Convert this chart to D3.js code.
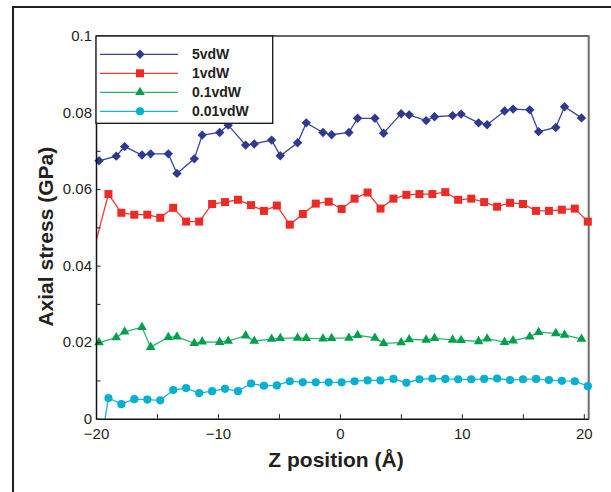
<!DOCTYPE html>
<html lang="en">
<head>
    <meta charset="UTF-8">
    <script src="https://cdn.jsdelivr.net/npm/d3@7"></script>
    <title>Axial stress</title>
    <style>
        body { margin: 0; background: #fff; }
        svg { display: block; }
        text { font-family: "Liberation Sans", Arial, Helvetica, sans-serif; fill: #231f20; }
        .tick line { stroke: #231f20; stroke-width: 1; }
        .domain { stroke: #111; stroke-width: 1.5; }
    </style>
</head>
<body>
<script>

    /*-------------------------------------------------------*/
    /*------------------------ Data -------------------------*/
    /*-------------------------------------------------------*/
    // z positions (Å) for the 5vdW and 0.1vdW curves
    const zRing = [-19.75, -18.34, -17.65, -16.23, -15.52, -14.07, -13.36, -11.94, -11.29, -9.86,
        -9.16, -7.73, -7.02, -5.60, -4.89, -3.47, -2.76, -1.39, -0.68, 0.74,
        1.45, 2.87, 3.58, 5.02, 5.68, 7.07, 7.76, 9.24, 9.94, 11.37,
        12.07, 13.50, 14.20, 15.57, 16.29, 17.70, 18.42, 19.81];

    // z positions (Å) for the 1vdW and 0.01vdW curves
    const zMid = [-20.04, -18.98, -17.92, -16.86, -15.79, -14.73, -13.67, -12.61, -11.54, -10.48,
        -9.42, -8.36, -7.29, -6.23, -5.17, -4.11, -3.04, -1.98, -0.92, 0.14,
        1.20, 2.27, 3.33, 4.39, 5.45, 6.52, 7.58, 8.64, 9.70, 10.77,
        11.83, 12.89, 13.95, 15.01, 16.08, 17.14, 18.20, 19.26, 20.33];

    const stress5vdW = [0.0674, 0.0686, 0.0711, 0.0689, 0.0692, 0.0692, 0.0641, 0.0679, 0.0741, 0.0748,
        0.0767, 0.0715, 0.0718, 0.0728, 0.0687, 0.0721, 0.0773, 0.0748, 0.0742, 0.0748,
        0.0785, 0.0785, 0.0746, 0.0797, 0.0794, 0.0779, 0.0789, 0.0792, 0.0796, 0.0773,
        0.0768, 0.0804, 0.0809, 0.0807, 0.0750, 0.0761, 0.0815, 0.0786];

    const stress1vdW = [0.0459, 0.0587, 0.0538, 0.0533, 0.0533, 0.0525, 0.0551, 0.0515, 0.0515, 0.0561,
        0.0566, 0.0572, 0.0558, 0.0543, 0.0557, 0.0507, 0.0535, 0.0562, 0.0567, 0.0548,
        0.0575, 0.0591, 0.0549, 0.0575, 0.0585, 0.0587, 0.0587, 0.0592, 0.0572, 0.0575,
        0.0566, 0.0554, 0.0564, 0.0561, 0.0543, 0.0543, 0.0546, 0.0549, 0.0515];

    const stress01vdW = [0.0199, 0.0212, 0.0227, 0.0239, 0.0187, 0.0213, 0.0214, 0.0197, 0.0201, 0.0200,
        0.0203, 0.0217, 0.0203, 0.0208, 0.0210, 0.0211, 0.0210, 0.0209, 0.0210, 0.0211,
        0.0218, 0.0211, 0.0197, 0.0199, 0.0207, 0.0206, 0.0210, 0.0206, 0.0205, 0.0202,
        0.0209, 0.0200, 0.0204, 0.0214, 0.0226, 0.0223, 0.0219, 0.0208];

    const stress001vdW = [-0.0151, 0.0054, 0.0038, 0.0051, 0.0050, 0.0048, 0.0075, 0.0080, 0.0067, 0.0072,
        0.0078, 0.0072, 0.0092, 0.0086, 0.0087, 0.0098, 0.0095, 0.0095, 0.0095, 0.0095,
        0.0098, 0.0100, 0.0100, 0.0104, 0.0094, 0.0103, 0.0105, 0.0104, 0.0103, 0.0103,
        0.0104, 0.0105, 0.0101, 0.0103, 0.0104, 0.0101, 0.0099, 0.0098, 0.0085];

    const seriesNames = ["5vdW", "1vdW", "0.1vdW", "0.01vdW"];

    const xTickVals = [-20, -10, 0, 10, 20];
    const xTickLabels = ["\u221220", "\u221210", "0", "10", "20"];
    const xMinorVals = [-15, -5, 5, 15];
    const yTickVals = [0, 0.02, 0.04, 0.06, 0.08, 0.1];
    const yTickLabels = ["0", "0.02", "0.04", "0.06", "0.08", "0.1"];
    const yMinorVals = [0.01, 0.03, 0.05, 0.07, 0.09];

    /*-------------------------------------------------------*/
    /*------------------- Window setting --------------------*/
    /*-------------------------------------------------------*/
    const dims = { width: 611, height: 492 };
    const plot = { left: 96, top: 36, right: 588.7, bottom: 418.7 };

    const series = [
        { name: seriesNames[0], z: zRing, v: stress5vdW, color: "#2e3a90", lineColor: "#3a4699", marker: "diamond" },
        { name: seriesNames[1], z: zMid, v: stress1vdW, color: "#ec2a26", lineColor: "#ee3b36", marker: "square" },
        { name: seriesNames[2], z: zRing, v: stress01vdW, color: "#00a04a", lineColor: "#2bb46a", marker: "triangle" },
        { name: seriesNames[3], z: zMid, v: stress001vdW, color: "#00b0d2", lineColor: "#19b4d4", marker: "circle" }
    ];

    /*-------------------------------------------------------*/
    /*------------------------ Scales -----------------------*/
    /*-------------------------------------------------------*/
    const xScale = d3.scaleLinear().domain([-20, 20.4]).range([plot.left, plot.right]);
    const yScale = d3.scaleLinear().domain([0, 0.1]).range([plot.bottom, plot.top]);

    const symbols = {
        diamond: d3.symbol().type(d3.symbolSquare).size(44),
        square: d3.symbol().type(d3.symbolSquare).size(64),
        triangle: d3.symbol().type(d3.symbolTriangle).size(40),
        circle: d3.symbol().type(d3.symbolCircle).size(52)
    };

    function markerPath(g, s, x, y) {
        g.append("path")
            .attr("d", symbols[s.marker]())
            .attr("fill", s.color)
            .attr("transform", `translate(${x},${y})` + (s.marker === "diamond" ? " rotate(45)" : ""));
    }

    /*-------------------------------------------------------*/
    /*------------------------- SVG -------------------------*/
    /*-------------------------------------------------------*/
    const svg = d3.select("body").append("svg")
        .attr("width", dims.width)
        .attr("height", dims.height);

    // outer figure frame
    svg.append("path")
        .attr("d", `M13,${dims.height} V7 H${dims.width}`)
        .attr("fill", "none")
        .attr("stroke", "#231f20")
        .attr("stroke-width", 2);

    svg.append("clipPath").attr("id", "plotClip")
        .append("rect")
        .attr("x", plot.left).attr("y", plot.top)
        .attr("width", plot.right - plot.left).attr("height", plot.bottom - plot.top);

    // box top + right
    svg.append("line")
        .attr("x1", plot.left).attr("x2", plot.right)
        .attr("y1", plot.top).attr("y2", plot.top)
        .attr("stroke", "#333").attr("stroke-width", 1.5);
    svg.append("line")
        .attr("x1", plot.right).attr("x2", plot.right)
        .attr("y1", plot.top - 0.7).attr("y2", plot.bottom)
        .attr("stroke", "#6d6d6d").attr("stroke-width", 2);

    /*-------------------------------------------------------*/
    /*------------------------ Lines ------------------------*/
    /*-------------------------------------------------------*/
    const line = d3.line().x(d => xScale(d[0])).y(d => yScale(d[1]));

    const linesG = svg.append("g").attr("clip-path", "url(#plotClip)");
    const markG = svg.append("g");

    series.forEach(s => {
        const pts = s.z.map((z, i) => [z, s.v[i]]);
        linesG.append("path")
            .datum(pts)
            .attr("d", line)
            .attr("fill", "none")
            .attr("stroke", s.lineColor)
            .attr("stroke-width", 1.3);

        // markers only where the data point lies inside the axes
        pts.filter(p => p[0] >= -20 && p[0] <= 20.4 && p[1] >= 0 && p[1] <= 0.1)
            .forEach(p => markerPath(markG, s, xScale(p[0]), yScale(p[1])));
    });

    /*-------------------------------------------------------*/
    /*------------------------ Axes -------------------------*/
    /*-------------------------------------------------------*/
    const xAxis = svg.append("g")
        .attr("transform", `translate(0,${plot.bottom})`)
        .call(d3.axisBottom(xScale).tickValues(xTickVals)
            .tickFormat((d, i) => xTickLabels[i])
            .tickSizeInner(-4.5).tickSizeOuter(0).tickPadding(9.5));
    xAxis.append("g").call(d3.axisBottom(xScale).tickValues(xMinorVals)
        .tickFormat("").tickSizeInner(-4.5).tickSizeOuter(0))
        .select(".domain").remove();

    const yAxis = svg.append("g")
        .attr("transform", `translate(${plot.left},0)`)
        .call(d3.axisLeft(yScale).tickValues(yTickVals)
            .tickFormat((d, i) => yTickLabels[i])
            .tickSizeInner(-4.5).tickSizeOuter(0).tickPadding(4));
    yAxis.append("g").call(d3.axisLeft(yScale).tickValues(yMinorVals)
        .tickFormat("").tickSizeInner(-4.5).tickSizeOuter(0))
        .select(".domain").remove();

    svg.selectAll(".tick text")
        .attr("font-size", 15)
        .attr("fill", "#231f20")
        .style("font-family", "'Liberation Sans', Arial, sans-serif");

    /*-------------------------------------------------------*/
    /*------------------------ Legend -----------------------*/
    /*-------------------------------------------------------*/
    const legend = svg.append("g");
    legend.append("rect")
        .attr("x", plot.left).attr("y", plot.top)
        .attr("width", 176.7).attr("height", 87.3)
        .attr("fill", "#fff")
        .attr("stroke", "#111")
        .attr("stroke-width", 1.3);

    series.forEach((s, i) => {
        const y = 54.3 + i * 19;
        legend.append("line")
            .attr("x1", 100).attr("x2", 178)
            .attr("y1", y).attr("y2", y)
            .attr("stroke", s.lineColor).attr("stroke-width", 1.3);
        markerPath(legend, s, 140, y);
        legend.append("text")
            .attr("x", 192).attr("y", y + 5)
            .attr("font-size", 14)
            .attr("font-weight", "bold")
            .text(s.name);
    });

    /*-------------------------------------------------------*/
    /*------------------------ Titles -----------------------*/
    /*-------------------------------------------------------*/
    svg.append("text")
        .attr("x", 336).attr("y", 466.7)
        .attr("text-anchor", "middle")
        .attr("font-size", 21)
        .attr("font-weight", "bold")
        .text("Z position (\u00c5)");

    svg.append("text")
        .attr("transform", "translate(52.7,236.7) rotate(-90)")
        .attr("text-anchor", "middle")
        .attr("font-size", 21)
        .attr("font-weight", "bold")
        .text("Axial stress (GPa)");
</script>
</body>
</html>
